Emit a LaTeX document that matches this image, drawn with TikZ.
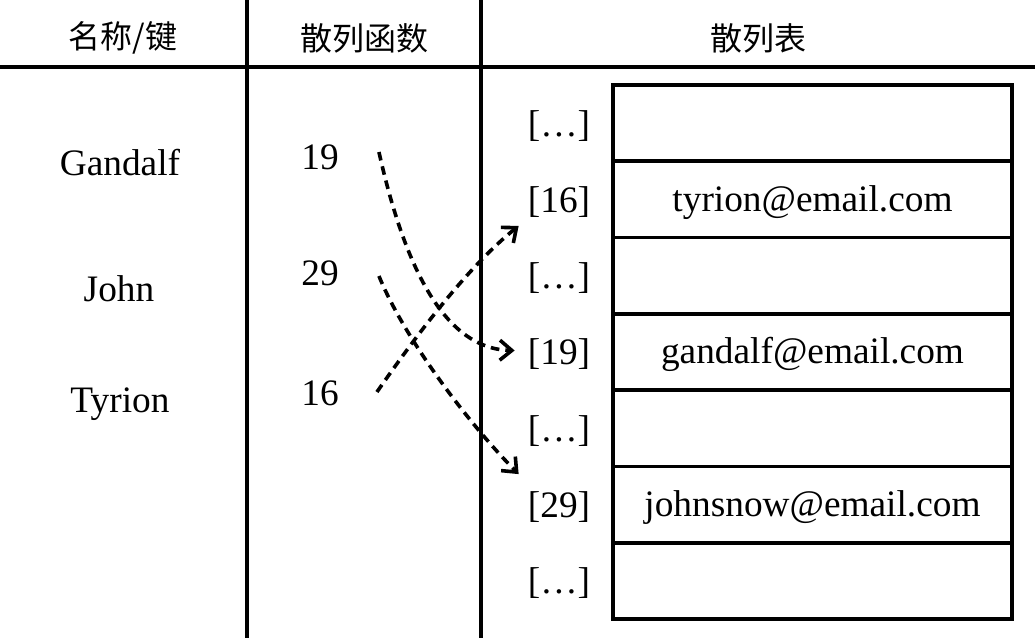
\documentclass[tikz,border=0pt]{standalone}
\usepackage{fontspec}
\setmainfont{Liberation Serif}
\newfontfamily\cjk{Noto Sans CJK SC}
\usetikzlibrary{arrows.meta}
\begin{document}
\begin{tikzpicture}[x=0.75pt,y=-0.75pt,
  rule/.style={line width=2.8pt},
  head/.style={font=\cjk\fontsize{24}{28}\selectfont, inner sep=0pt},
  txt/.style={font=\fontsize{28}{32}\selectfont, inner sep=0pt},
  cell/.style={draw, line width=2.8pt, minimum width=299pt, minimum height=57.2pt, inner sep=0pt,
    text depth=2pt, font=\fontsize{28}{32}\selectfont},
  hasharrow/.style={line width=2.7pt, dash pattern=on 6.5pt off 4.5pt,
    -{Straight Barb[length=9pt,width=15pt]}}
]
\useasboundingbox (0,0) rectangle (1035,638);
\draw[rule] (0,67) -- (1035,67);
\draw[rule] (247,0) -- (247,638);
\draw[rule] (481,0) -- (481,638);

\node[head] (hkey) at (123,38) {名称/键};
\node[head] (hfun) at (364,38) {散列函数};
\node[head] (htab) at (758,38) {散列表};

\node[txt] (kg) at (120,163) {Gandalf};
\node[txt] (kj) at (119,289) {John};
\node[txt] (kt) at (120,404) {Tyrion};

\node[txt] (h19) at (320,157) {19};
\node[txt] (h29) at (320,273) {29};
\node[txt] (h16) at (320,393) {16};

\foreach \i/\lab/\val in {0/{[…]}/{},1/{[16]}/{tyrion@email.com},2/{[…]}/{},
  3/{[19]}/{gandalf@email.com},4/{[…]}/{},5/{[29]}/{johnsnow@email.com},6/{[…]}/{}}{
  \node[cell] (cell\i) at (812.5,123.1+76.3*\i) {\val};
  \node[txt] (idx\i) at (559,125.6+76.3*\i) {\lab};
}

\draw[hasharrow] ([shift={(40,-5)}]h19.east) .. controls (402,255) and (440,349) .. ([shift={(-13,-4)}]idx3.west);
\draw[hasharrow] ([shift={(40,3)}]h29.east) .. controls (405,340) and (470,425) .. ([shift={(-9,-33)}]idx5.west);
\draw[hasharrow] ([shift={(38,-1)}]h16.east) .. controls (420,330) and (470,265) .. ([shift={(-9,24)}]idx1.west);
\end{tikzpicture}
\end{document}
